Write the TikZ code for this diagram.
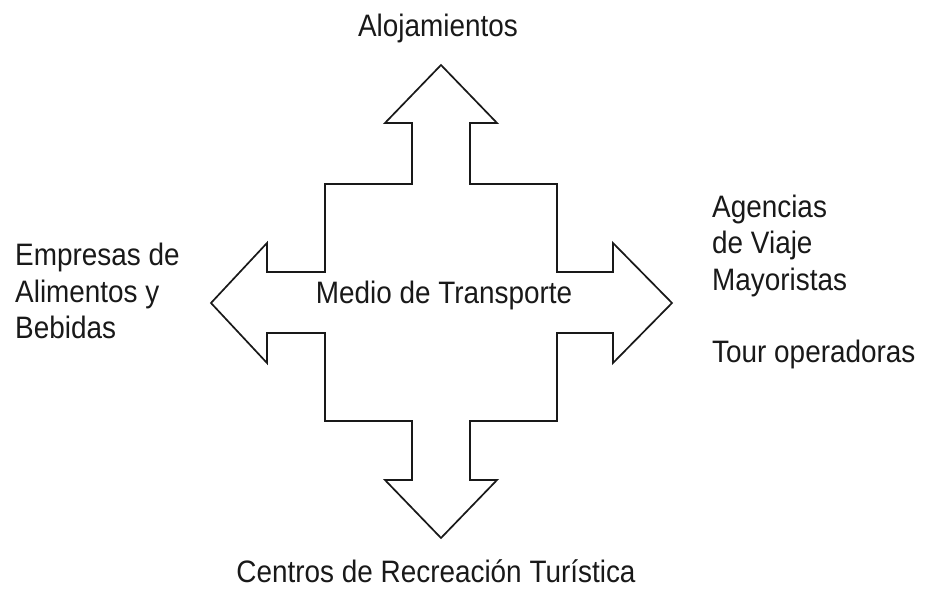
\documentclass[tikz,border=0pt]{standalone}
\usepackage{fontspec}
\setmainfont[FakeStretch=0.9]{Liberation Sans}
\begin{document}
\begin{tikzpicture}[x=1pt,y=-1pt,
  lbl/.style={inner sep=0pt,font=\fontsize{31}{36.5}\selectfont,text=black!90},
  crossline/.style={draw=black!90,line width=1.7pt,line join=miter,fill=white}]
\useasboundingbox[fill=white] (0,0) rectangle (927,594);
\path[crossline] (441,65) -- (497,123) -- (470,123) -- (470,184) -- (557,184) -- (557,272)
  -- (613,272) -- (613,243) -- (672,303) -- (613,363) -- (613,333) -- (557,333)
  -- (557,421) -- (470,421) -- (470,480) -- (497,480) -- (441,538) -- (385,480)
  -- (412,480) -- (412,421) -- (325,421) -- (325,333) -- (267,333) -- (267,363)
  -- (211,303) -- (267,243) -- (267,272) -- (325,272) -- (325,184) -- (412,184)
  -- (412,123) -- (385,123) -- cycle;
\node[lbl,anchor=base] (center) at (444,303) {Medio de Transporte};
\node[lbl,anchor=base] (top) at (438,37) {Alojamientos};
\node[lbl,anchor=base] (bottom) at (436,582) {Centros de Recreación Turística};
\node[lbl,anchor=base west] (l1) at (15,265) {Empresas de};
\node[lbl,anchor=base west] (l2) at (15,302) {Alimentos y};
\node[lbl,anchor=base west] (l3) at (15,338) {Bebidas};
\node[lbl,anchor=base west] (r1) at (712,217) {Agencias};
\node[lbl,anchor=base west] (r2) at (712,253) {de Viaje};
\node[lbl,anchor=base west] (r3) at (712,290) {Mayoristas};
\node[lbl,anchor=base west] (r4) at (712,362) {Tour operadoras};
\end{tikzpicture}
\end{document}
